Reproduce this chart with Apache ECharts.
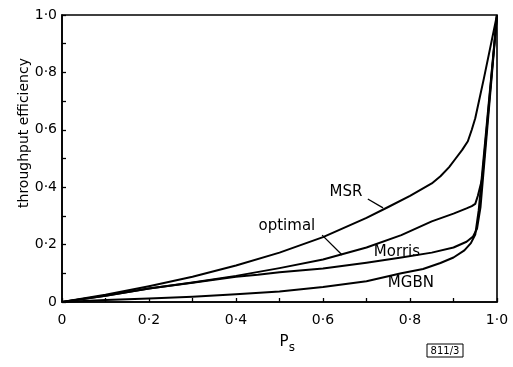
<!DOCTYPE html>
<html><head><meta charset="utf-8">
<script src="https://cdn.jsdelivr.net/npm/echarts@6/dist/echarts.min.js"></script>
<style>html,body{margin:0;padding:0;background:#fff}#c{width:513px;height:367px}</style>
</head><body><div id="c"></div>
<script>
// tick labels (by tenths)
const tickLabels = {0:'0', 2:'0·2', 4:'0·4', 6:'0·6', 8:'0·8', 10:'1·0'};
const xName = ['P', 's'];
const yName = 'throughput efficiency';
const figNote = '811/3';

// curves: [Ps, throughput efficiency]
const msr = [[0,0],[0.1,0.025],[0.2,0.055],[0.3,0.088],[0.4,0.127],[0.5,0.172],[0.6,0.226],[0.7,0.293],[0.75,0.331],[0.8,0.37],[0.85,0.413],[0.87,0.438],[0.89,0.47],[0.905,0.5],[0.92,0.53],[0.933,0.56],[0.942,0.6],[0.95,0.64],[0.97,0.78],[1.0,1.0]];
const optimal = [[0,0],[0.1,0.022],[0.2,0.047],[0.3,0.068],[0.4,0.091],[0.5,0.118],[0.6,0.148],[0.7,0.19],[0.78,0.233],[0.85,0.281],[0.9,0.308],[0.93,0.326],[0.942,0.334],[0.95,0.342],[0.956,0.37],[0.966,0.43],[1.0,1.0]];
const morris = [[0,0],[0.1,0.022],[0.2,0.047],[0.3,0.067],[0.4,0.088],[0.45,0.095],[0.5,0.104],[0.6,0.117],[0.7,0.137],[0.78,0.155],[0.85,0.172],[0.9,0.19],[0.93,0.21],[0.945,0.228],[0.954,0.255],[0.962,0.33],[1.0,1.0]];
const mgbn = [[0,0],[0.1,0.007],[0.2,0.012],[0.3,0.018],[0.4,0.027],[0.5,0.037],[0.6,0.052],[0.7,0.072],[0.78,0.1],[0.83,0.115],[0.87,0.136],[0.9,0.155],[0.925,0.18],[0.94,0.205],[0.95,0.235],[0.958,0.32],[1.0,1.0]];

// annotations in data coordinates
const curveLabels = [['MSR',[0.653,0.383]],['optimal',[0.517,0.265]],['Morris',[0.770,0.174]],['MGBN',[0.802,0.066]]];
const leaders = [[[0.703,0.359],[0.738,0.328]],[[0.598,0.233],[0.644,0.164]]];

const FONT = 'DejaVu Sans';
const chart = echarts.init(document.getElementById('c'));
const fmt = v => { const k = Math.round(v*10); return tickLabels[k] !== undefined ? tickLabels[k] : ''; };
const axisCommon = {
  type:'value', min:0, max:1, interval:0.1,
  axisLine:{show:true, lineStyle:{color:'#000', width:1.6}},
  axisTick:{show:true, inside:true, length:4, lineStyle:{color:'#000', width:1.3}},
  splitLine:{show:false},
  axisLabel:{formatter:fmt, color:'#000', fontFamily:FONT, fontSize:14}
};
const mk = (name, data) => ({type:'line', name, data, symbol:'none', smooth:false,
  lineStyle:{color:'#000', width:2, join:'round'}, z:3});
chart.setOption({
  animation:false,
  backgroundColor:'#fff',
  grid:{left:62, right:16, top:15, bottom:65, show:true, borderColor:'#000', borderWidth:1.6},
  xAxis:Object.assign({}, axisCommon, {axisLabel:Object.assign({}, axisCommon.axisLabel, {margin:11})}),
  yAxis:Object.assign({}, axisCommon, {axisLabel:Object.assign({}, axisCommon.axisLabel, {margin:5})}),
  series:[mk('MSR', msr), mk('optimal', optimal), mk('Morris', morris), mk('MGBN', mgbn)]
});
const P = p => chart.convertToPixel({gridIndex:0}, p);
const g = [];
curveLabels.forEach(([t, at]) => {
  const p = P(at);
  g.push({type:'text', x:p[0], y:p[1], style:{text:t, font:'15px "'+FONT+'"', fill:'#000', align:'center', verticalAlign:'middle'}, z:10});
});
leaders.forEach(([a, b]) => {
  const pa = P(a), pb = P(b);
  g.push({type:'line', shape:{x1:pa[0], y1:pa[1], x2:pb[0], y2:pb[1]}, style:{stroke:'#000', lineWidth:1.3}, z:10});
});
// axis titles
g.push({type:'text', x:24, y:133, rotation:Math.PI/2, style:{text:yName, font:'14px "'+FONT+'"', fill:'#000', align:'center', verticalAlign:'middle'}});
g.push({type:'text', x:284, y:342, style:{text:xName[0], font:'15px "'+FONT+'"', fill:'#000', align:'center', verticalAlign:'middle'}});
g.push({type:'text', x:292, y:348, style:{text:xName[1], font:'12px "'+FONT+'"', fill:'#000', align:'center', verticalAlign:'middle'}});
// figure number box
g.push({type:'rect', shape:{x:427, y:344, width:36, height:13}, style:{fill:'#fff', stroke:'#000', lineWidth:1}});
g.push({type:'text', x:445, y:351, style:{text:figNote, font:'10px "'+FONT+'"', fill:'#000', align:'center', verticalAlign:'middle'}});
chart.setOption({graphic:g});
</script></body></html>
